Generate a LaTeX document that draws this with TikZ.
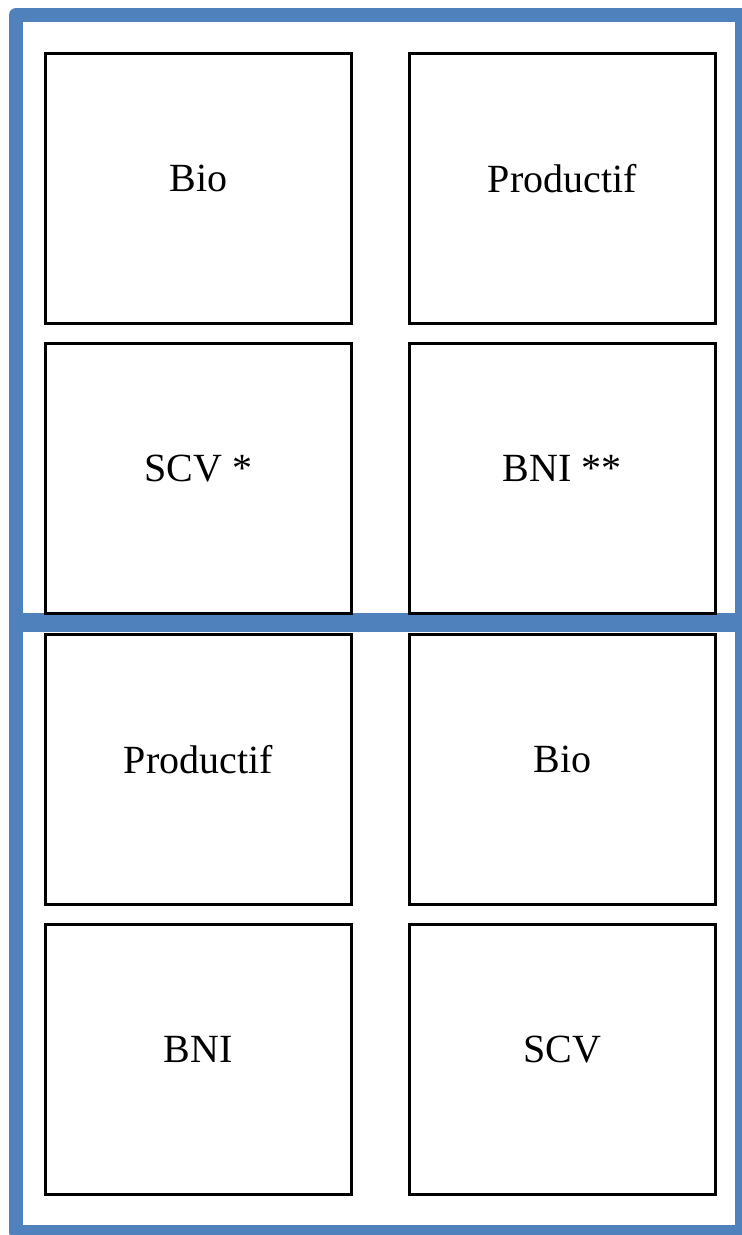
\documentclass[tikz,border=0pt]{standalone}
\usepackage{fontspec}
\setmainfont{Liberation Serif}
\definecolor{frameblue}{HTML}{4F81BD}
\begin{document}
\begin{tikzpicture}[x=1pt,y=-1pt,
  cell/.style={draw=black,line width=2.8pt,minimum width=306pt,minimum height=270pt,inner sep=0pt,anchor=north west},
  label/.style={font=\fontsize{40}{48}\selectfont,inner sep=0pt},
  framestroke/.style={draw=frameblue,line width=14pt,line join=round}]
\useasboundingbox (0,0) rectangle (742,1235);
\begin{scope}
\clip (0,0) rectangle (742,1235);
\draw[framestroke] (16,15) rectangle (742,1232);
\draw[draw=frameblue,line width=19pt] (16,622.5) -- (742,622.5);
\end{scope}
\node[cell] (c11) at (44,52) {};
\node[cell] (c12) at (408,52) {};
\node[cell] (c21) at (44,342) {};
\node[cell] (c22) at (408,342) {};
\node[cell] (c31) at (44,633) {};
\node[cell] (c32) at (408,633) {};
\node[cell] (c41) at (44,923) {};
\node[cell] (c42) at (408,923) {};
\node[label] (t11) at ([yshift=10pt]c11.center) {Bio};
\node[label] (t12) at ([yshift=10pt]c12.center) {Productif};
\node[label] (t21) at ([yshift=10pt]c21.center) {SCV *};
\node[label] (t22) at ([yshift=10pt]c22.center) {BNI **};
\node[label] (t31) at ([yshift=10pt]c31.center) {Productif};
\node[label] (t32) at ([yshift=10pt]c32.center) {Bio};
\node[label] (t41) at ([yshift=10pt]c41.center) {BNI};
\node[label] (t42) at ([yshift=10pt]c42.center) {SCV};
\end{tikzpicture}
\end{document}
